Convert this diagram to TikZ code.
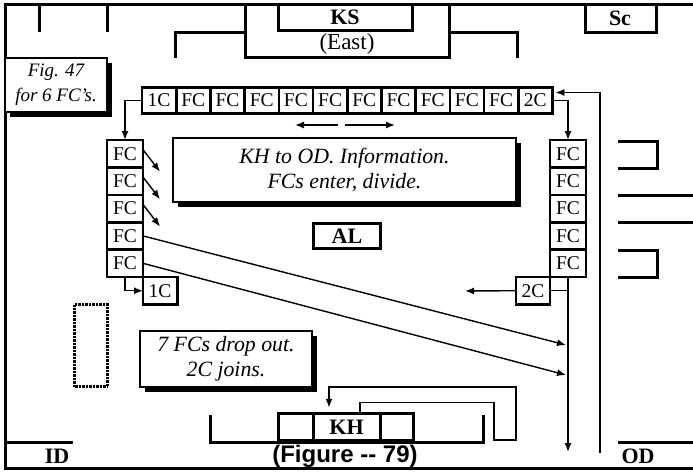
\documentclass[tikz,border=0pt]{standalone}
\usepackage{fontspec}
\setmainfont{Liberation Serif}
\setsansfont{Liberation Sans}
\usetikzlibrary{arrows.meta, positioning, calc, shadows}

\begin{document}
\begin{tikzpicture}[x=1pt, y=-1pt, >={Latex[length=9pt,width=7pt]},
        wall/.style={line width=3pt},
        link/.style={line width=1.4pt},
        rowbox/.style={draw, line width=2.6pt, fill=white, inner sep=0pt, outer sep=0pt,
            minimum width=34.2pt, minimum height=26pt, font=\fontsize{19.5}{19.5}\selectfont},
        colbox/.style={rowbox, minimum width=36pt, minimum height=27.4pt},
        khbox/.style={rowbox, line width=3pt, minimum height=26.5pt, font=\bfseries\fontsize{22}{22}\selectfont},
        note/.style={draw, line width=1.6pt, fill=white, align=center, inner sep=0pt,
            font=\itshape\fontsize{21.8}{25}\selectfont,
            drop shadow={opacity=1, fill=black, shadow xshift=5pt, shadow yshift=-5pt}},
        tag/.style={font=\bfseries\fontsize{22}{22}\selectfont}]
        \useasboundingbox (0,0) rectangle (693,471);

        \draw[wall] (693,4) -- (5,4) -- (5,468.5) -- (693,468.5);
        \draw[wall] (39,4) -- (39,32);
        \draw[wall] (107,4) -- (107,32);
        \draw[wall] (175,58) |- (245,32);
        \draw[wall] (245,4) |- (449,57) -- (449,4);
        \draw[wall] (449,32) -| (517,58);
        \draw[wall] (278,4) |- (412,30) -- (412,4);
        \draw[wall] (585,4) |- (656,32) -- (656,4);
        \node[tag] (ks) at (345,17) {KS};
        \node[font=\fontsize{23}{23}\selectfont] (east) at (347,44) {(East)};
        \node[tag] (sc) at (620,18) {Sc};

        \node[note, minimum width=102pt, minimum height=54pt, font=\itshape\fontsize{19}{25}\selectfont]
            (fig) at (56,85) {Fig. 47\\for 6 FC's.};

        \node[rowbox] (r1) at (159.1,100.5) {1C};
        \foreach \i [remember=\i as \j (initially 1)] in {2,...,11}
            \node[rowbox, right=0pt of r\j] (r\i) {FC};
        \node[rowbox, right=0pt of r11] (r12) {2C};

        \node[colbox] (l1) at (125,153.7) {FC};
        \node[colbox] (c1) at (568,153.7) {FC};
        \foreach \i [remember=\i as \j (initially 1)] in {2,...,5} {
            \node[colbox, below=0pt of l\j] (l\i) {FC};
            \node[colbox, below=0pt of c\j] (c\i) {FC};
        }
        \node[rowbox, minimum height=27.4pt, anchor=north west] (one) at (l5.south east) {1C};
        \node[rowbox, minimum height=27.4pt, anchor=north east] (two) at (c5.south west) {2C};

        \node[note, minimum width=343pt, minimum height=64pt] (info) at (344.5,170)
            {KH to OD. Information.\\FCs enter, divide.};
        \node[draw, line width=3pt, minimum width=67pt, minimum height=25pt, tag] (al) at (347,236) {AL};
        \node[draw, line width=3pt, dash pattern=on 0.7pt off 0.7pt,
            minimum width=33pt, minimum height=82pt] (gap) at (91,345.5) {};
        \node[note, minimum width=172pt, minimum height=56pt] (drop) at (226,359)
            {7 FCs drop out.\\2C joins.};

        \node[khbox, minimum width=67pt] (kh) at (346.5,427) {KH};
        \node[khbox, minimum width=35pt, left=0pt of kh] (khl) {};
        \node[khbox, minimum width=33pt, right=0pt of kh] (khr) {};
        \draw[wall] (210,415) |- (483,442) -- (483,415);

        \draw[wall] (618,141) -| (657,168) -- (618,168);
        \draw[wall] (618,195) -- (693,195);
        \draw[wall] (618,222) -- (693,222);
        \draw[wall] (618,250) -| (657,277) -- (618,277);
        \draw[wall] (5,442) -- (73,442);
        \draw[wall] (618,442) -- (693,442);
        \node[tag] (id) at (57,456) {ID};
        \node[tag] (od) at (638,456) {OD};
        \node[font=\sffamily\bfseries\fontsize{24}{24}\selectfont] (fignum) at (345,456) {(Figure {-}{-} 79)};

        \coordinate (wl) at (295,125);
        \coordinate (wr) at (395,125);
        \coordinate (hit1) at (566,345);
        \coordinate (hit2) at (566,375);
        \coordinate (down) at (568,452);
        \coordinate (back) at (600,453);
        \coordinate (out) at (465,291);

        \draw[link, ->] (r1.west) -| (l1.north);
        \draw[link, ->] (r12.east) -| (c1.north);
        \draw[link, ->] (back) |- ($(r12.east)+(3,-8)$);
        \draw[link, ->] (338,125) -- (wl);
        \draw[link, ->] (345,125) -- (wr);
        \foreach \i in {1,2,3}
            \draw[link, ->] ($(l\i.east)+(0,-4)$) -- ++(17,22);
        \draw[link, ->] (l4.east) -- (hit1);
        \draw[link, ->] (l5.east) -- (hit2);
        \draw[link, ->] (l5.south) |- (one.west);
        \draw[link, ->] (c5.south) -- (down);
        \draw[link] (two.east) -- (two.east -| c5.south);
        \draw[link, ->] (two.west) -- (out);
        \draw[link, ->] ($(kh.north)+(13.5,0)$) -- ++(0,-11) -| (494,440) -| (516,387) -| ($(kh.north)+(-17.5,-6)$);
    \end{tikzpicture}
\end{document}
